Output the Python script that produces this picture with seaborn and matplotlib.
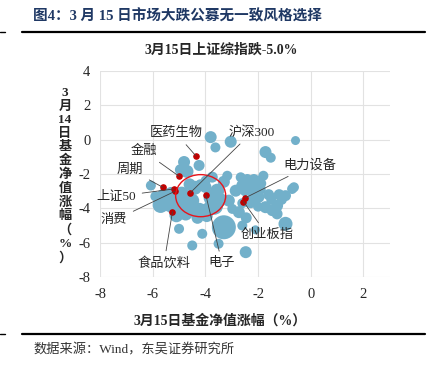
import numpy as np
import pandas as pd
import matplotlib
matplotlib.use('Agg')
import matplotlib.pyplot as plt
import seaborn as sns
from matplotlib.patches import Ellipse
from matplotlib.lines import Line2D

# fund bubbles: 3/15 return, 3/14 return, bubble radius (px)
fund_x = [-3.80, -3.62, -3.04, -0.58, -1.72, -1.52, -4.24, -4.81, -4.70, -4.95,
          -3.74, -3.17, -3.30, -3.99, -6.07,
          -5.38, -5.55, -5.00, -4.75, -4.24, -3.67, -3.55, -4.50, -4.90, -4.40,
          -4.00, -3.80, -4.60, -5.20, -5.70, -3.45, -4.30, -5.10, -4.65, -3.95,
          -5.60, -5.30, -4.85, -4.60, -3.90, -3.70, -4.20, -5.90,
          -2.66, -2.41, -2.16, -2.60, -2.35, -2.09, -2.03, -1.80, -2.85, -3.11,
          -2.28, -1.97, -1.72, -1.28, -1.47, -1.28, -0.96, -0.71, -0.64, -1.60,
          -1.20, -2.73, -2.98, -2.45, -0.96, -1.90, -2.20,
          -2.50, -2.20, -1.90, -1.50, -1.10, -2.00, -2.60,
          -3.30, -4.12, -5.00, -4.50, -3.50, -2.47, -2.60, -2.10]
fund_y = [0.15, -0.45, -0.12, -0.05, -0.72, -1.05, -1.50, -1.30, -1.85, -1.75,
          -2.18, -2.10, -2.45, -2.38, -2.67,
          -3.60, -3.30, -4.00, -4.30, -4.20, -3.85, -2.97, -3.55, -3.20, -2.80,
          -2.75, -3.40, -2.60, -3.80, -3.80, -3.50, -4.55, -4.40, -3.90, -4.45,
          -3.50, -3.10, -3.60, -4.00, -4.00, -3.20, -2.60, -3.30,
          -2.19, -2.29, -2.29, -2.67, -2.77, -2.77, -2.38, -2.10, -2.97, -3.55,
          -3.64, -3.35, -3.93, -3.84, -4.13, -4.32, -3.26, -2.87, -2.77, -3.20,
          -3.20, -4.22, -4.03, -4.55, -4.90, -2.55, -3.10,
          -3.00, -3.10, -2.90, -3.50, -3.50, -3.90, -3.70,
          -5.10, -5.48, -5.19, -6.16, -6.06, -6.55, -5.00, -5.25]
fund_r = [6, 5, 6, 4.5, 6, 5, 5.5, 6, 6.5, 5.5,
          5.5, 5, 6, 5, 5,
          10, 8, 9, 7, 9, 9, 7, 7, 8, 7,
          6, 7, 6, 9, 8, 7, 6, 7, 7, 6,
          7, 6, 7, 7, 6, 6, 5, 5,
          5, 5, 5, 6, 5.5, 5.5, 5, 5, 6, 6,
          6, 5.5, 6, 6, 5.5, 5.5, 5.5, 5, 5, 5.5,
          5.5, 6, 5, 5.5, 7, 5.5, 5.5,
          5, 5, 5, 5, 5, 5, 5,
          12, 5, 5, 5, 5, 6, 5, 4.5]

# index points
idx_names = ['医药生物', '沪深300', '金融', '周期', '上证50', '消费', '食品饮料', '电子', '电力设备', '创业板指']
idx_x = [-4.37, -4.58, -5.00, -5.62, -5.21, -5.15, -5.25, -3.98, -2.49, -2.56]
idx_y = [-0.93, -3.10, -2.13, -2.77, -2.87, -3.00, -4.19, -3.24, -3.39, -3.60]
label_x = [-5.11, -2.24, -6.33, -6.85, -7.38, -7.46, -5.57, -3.37, -0.04, -1.67]
label_y = [0.37, 0.42, -0.68, -1.74, -3.31, -4.70, -7.19, -7.19, -1.51, -5.52]

df = pd.DataFrame({'x': fund_x, 'y': fund_y, 'r': fund_r})
df['s'] = (2 * df['r'] * 0.72) ** 2

sns.set_style('white')
plt.rcParams['font.family'] = ['Liberation Serif', 'Noto Sans CJK SC', 'DejaVu Sans']
plt.rcParams['axes.unicode_minus'] = False

fig = plt.figure(figsize=(4.3, 3.66), dpi=100)
ax = fig.add_axes([0.2326, 0.243, 0.674, 0.563])

sns.scatterplot(data=df, x='x', y='y', size='s', sizes=(df['s'].min(), df['s'].max()),
                color='#72b0ca', edgecolor='none', alpha=1, legend=False, ax=ax, zorder=2)
ax.scatter(idx_x, idx_y, s=14, color='#c00000', zorder=4)
ax.add_patch(Ellipse((-4.18, -3.26), 1.90, 2.45, fill=False, edgecolor='#e8141b', lw=1.0, zorder=5))

for n, px, py, tx, ty in zip(idx_names, idx_x, idx_y, label_x, label_y):
    ax.annotate(n, xy=(px, py), xytext=(tx, ty), ha='center', va='center', fontsize=9.5,
                arrowprops=dict(arrowstyle='-', color='#444444', lw=0.6, shrinkA=2, shrinkB=0),
                zorder=6)

ax.set_xlim(-8, 3)
ax.set_ylim(-8, 4)
ax.set_xticks(range(-8, 3, 2))
ax.set_yticks(range(-8, 5, 2))
ax.grid(True, color='#e2e2e2', lw=0.8)
ax.set_axisbelow(True)
for sp in ax.spines.values():
    sp.set_visible(False)
ax.tick_params(axis='y', length=0, labelsize=10.5, pad=7)
ax.tick_params(axis='x', length=0, labelsize=10.5, pad=8)
ax.set_xlabel('')
ax.set_ylabel('')

fig.text(0.077, 0.957, '图4：3 月 15 日市场大跌公募无一致风格选择', fontsize=10.5, fontweight='bold',
         color='#1f3864', va='center')
fig.add_artist(Line2D([0.051, 0.988], [0.913, 0.913], color='black', lw=1.6))
fig.add_artist(Line2D([0.0, 0.012], [0.913, 0.913], color='black', lw=1.0))
fig.text(0.514, 0.863, '3月15日上证综指跌-5.0%', fontsize=10, fontweight='bold', ha='center', va='center')
fig.text(0.512, 0.123, '3月15日基金净值涨幅（%）', fontsize=10, fontweight='bold', ha='center', va='center')
ylab = ['3', '月', '14', '日', '基', '金', '净', '值', '涨', '幅', '（', '%', '）']
fig.text(0.151, 0.52, '\n'.join(ylab), fontsize=9.5, fontweight='bold',
         ha='center', va='center', linespacing=1.17)
fig.add_artist(Line2D([0.051, 0.988], [0.087, 0.087], color='black', lw=1.6))
fig.add_artist(Line2D([0.0, 0.012], [0.087, 0.087], color='black', lw=1.0))
fig.text(0.077, 0.044, '数据来源：Wind，东吴证券研究所', fontsize=9.5, color='#333333', va='center')

fig.savefig('out.png', dpi=100)
